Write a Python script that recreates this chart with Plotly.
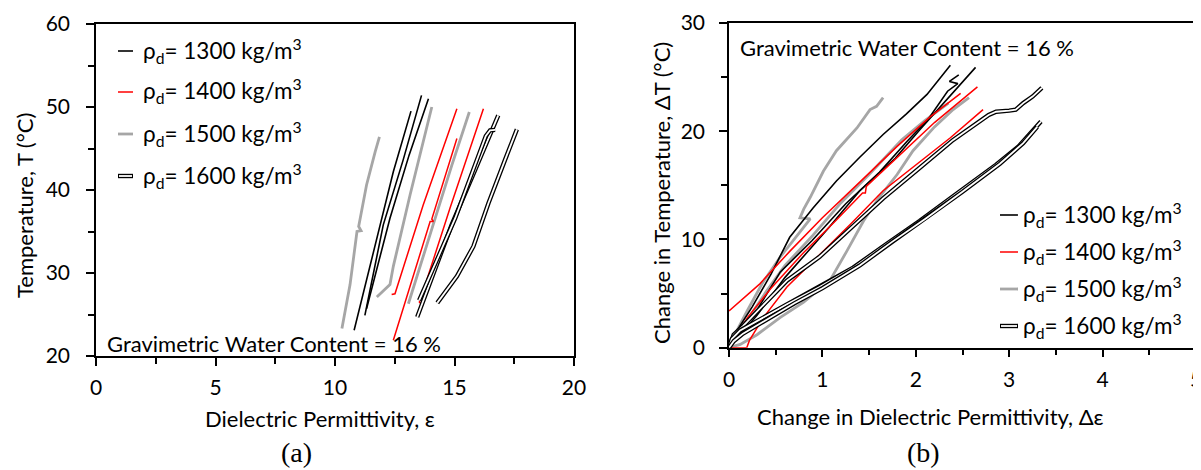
import plotly.graph_objects as go

# ---------------- Panel (a): Temperature vs dielectric permittivity ----------------
A1300_EPS = [[10.80, 11.61, 12.44, 13.18],
             [11.25, 12.02, 12.85, 13.62],
             [11.32, 12.30, 13.10, 13.91]]
A1300_T = [[23.1, 32.6, 42.2, 49.5],
           [24.9, 35.8, 43.6, 51.4],
           [25.7, 36.6, 44.2, 51.0]]

A1400_EPS = [[12.44, 13.98, 14.12, 14.05, 15.10],
             [12.37, 12.51, 13.69, 15.10],
             [13.66, 13.53, 13.61, 14.81, 16.21]]
A1400_T = [[21.9, 36.2, 36.2, 36.5, 46.2],
           [27.4, 27.5, 38.2, 49.8],
           [26.1, 26.5, 27.1, 37.8, 49.8]]

A1500_EPS = [[10.29, 10.63, 10.92, 11.09, 10.99, 11.32, 11.68, 11.86],
             [11.75, 12.30, 12.44, 13.14, 14.05],
             [13.07, 14.26, 14.89, 15.62]]
A1500_T = [[23.3, 28.6, 35.0, 35.1, 35.6, 40.6, 44.6, 46.4],
           [27.1, 28.6, 30.8, 39.4, 50.0],
           [26.3, 37.4, 43.0, 49.4]]

A1600_EPS = [[13.44, 14.88, 15.86, 16.83],
             [13.52, 15.03, 16.31, 16.49, 16.70],
             [14.28, 15.10, 15.79, 16.42, 17.11, 17.61]]
A1600_T = [[24.7, 35.8, 42.4, 49.0],
           [26.7, 36.6, 46.5, 47.2, 47.25],
           [26.4, 29.6, 33.2, 38.4, 43.6, 47.3]]

# ---------------- Panel (b): change in temperature vs change in permittivity ----------------
B1300_DEPS = [[0, 0.08, 0.25, 0.45, 0.65, 0.90, 1.15, 1.40, 1.65, 1.90, 2.12, 2.37],
              [0, 0.10, 0.30, 0.55, 0.89, 1.25, 1.61, 1.90, 2.14, 2.34, 2.45, 2.36, 2.46],
              [0, 0.10, 0.30, 0.60, 1.07, 1.40, 1.78, 2.05, 2.32, 2.64]]
B1300_DT = [[0, 1.5, 3.8, 6.8, 10.2, 12.9, 15.4, 17.6, 19.7, 21.6, 23.4, 26.1],
            [0, 1.2, 3.5, 7.0, 9.9, 13.3, 16.2, 19.0, 21.2, 23.7, 24.4, 24.6, 25.2],
            [0, 1.0, 3.0, 6.5, 11.1, 14.5, 17.5, 20.2, 22.8, 25.9]]

B1400_DEPS = [[0, 0.33, 0.65, 1.00, 1.40, 1.80, 2.15, 2.48],
              [0, 0.05, 0.20, 0.45, 0.80, 1.15, 1.43, 1.46, 1.47, 1.80, 2.20, 2.66],
              [0, 0.19, 0.22, 0.37, 0.62, 0.94, 1.30, 1.65, 2.00, 2.37, 2.72]]
B1400_DT = [[3.4, 5.9, 8.9, 12.0, 15.3, 18.6, 21.3, 23.5],
            [0, 0.8, 2.8, 5.5, 8.8, 11.8, 14.3, 14.3, 14.9, 17.6, 20.8, 24.1],
            [0, 0, 0.7, 2.8, 5.6, 8.3, 11.4, 14.5, 16.9, 19.4, 22.0]]

B1500_DEPS = [[0, 0.08, 0.20, 0.36, 0.55, 0.72, 0.87, 0.76, 0.80, 0.87, 1.01, 1.15, 1.37, 1.51, 1.58, 1.65],
              [0, 0.06, 0.20, 0.40, 0.60, 0.90, 1.20, 1.50, 1.85, 2.10, 2.35],
              [0, 0.12, 0.30, 0.55, 0.80, 1.08, 1.26, 1.44, 1.60, 1.80, 1.97, 2.20, 2.40, 2.57]]
B1500_DT = [[0, 1.5, 3.5, 6.0, 8.4, 10.3, 11.9, 12.0, 12.8, 13.9, 16.3, 18.2, 20.3, 22.0, 22.3, 23.1],
            [0, 0.8, 2.6, 5.2, 7.6, 10.4, 13.4, 16.0, 19.2, 21.0, 22.6],
            [0, 0.3, 1.2, 2.8, 4.2, 6.2, 8.9, 11.7, 13.8, 16.0, 18.2, 20.4, 22.0, 23.1]]

B1600_DEPS = [[0, 0.05, 0.15, 0.35, 0.62, 0.97, 1.30, 1.65, 2.04, 2.40, 2.78, 2.86, 3.00, 3.07, 3.15, 3.25, 3.35],
              [0, 0.03, 0.12, 0.37, 0.62, 0.97, 1.33, 1.69, 2.04, 2.40, 2.86, 3.10, 3.34],
              [0, 0.05, 0.15, 0.40, 0.70, 1.00, 1.40, 1.75, 2.10, 2.50, 2.90, 3.15, 3.30]]
B1600_DT = [[0, 1.2, 2.0, 3.8, 6.2, 8.4, 11.0, 13.8, 16.6, 19.2, 21.5, 21.8, 21.9, 22.0, 22.6, 23.2, 24.0],
            [0, 0.8, 1.6, 2.8, 4.0, 5.6, 7.4, 9.6, 11.7, 14.0, 16.9, 18.6, 20.9],
            [0, 0.6, 1.3, 2.6, 4.1, 5.5, 7.6, 9.8, 11.9, 14.4, 17.0, 18.9, 20.4]]

LEGEND_LABELS = ["ρ<sub>d</sub>= 1300 kg/m<sup>3</sup>",
                 "ρ<sub>d</sub>= 1400 kg/m<sup>3</sup>",
                 "ρ<sub>d</sub>= 1500 kg/m<sup>3</sup>",
                 "ρ<sub>d</sub>= 1600 kg/m<sup>3</sup>"]
NOTE = "Gravimetric Water Content = 16 %"

# ---------------- styles ----------------
OFF = 8                      # page body margin of the HTML page
W, H = 1201 - OFF, 470 - OFF
FONT = "Lato"
BLACK, RED, GRAY = "#000000", "#ff0000", "#a6a6a6"
STYLES = [dict(color=BLACK, width=1.6), dict(color=RED, width=1.5), dict(color=GRAY, width=2.8)]

fig = go.Figure()

def add_simple(xs_list, ys_list, style, xa, ya):
    for xs, ys in zip(xs_list, ys_list):
        fig.add_trace(go.Scatter(x=xs, y=ys, mode="lines", line=style,
                                 xaxis=xa, yaxis=ya, showlegend=False, hoverinfo="skip"))

def add_double(xs_list, ys_list, xa, ya):
    for xs, ys in zip(xs_list, ys_list):
        fig.add_trace(go.Scatter(x=xs, y=ys, mode="lines", line=dict(color=BLACK, width=4.4),
                                 xaxis=xa, yaxis=ya, showlegend=False, hoverinfo="skip"))
        fig.add_trace(go.Scatter(x=xs, y=ys, mode="lines", line=dict(color="#ffffff", width=1.8),
                                 xaxis=xa, yaxis=ya, showlegend=False, hoverinfo="skip"))

# panel (a)
add_simple(A1500_EPS, A1500_T, STYLES[2], "x", "y")
add_simple(A1300_EPS, A1300_T, STYLES[0], "x", "y")
add_simple(A1400_EPS, A1400_T, STYLES[1], "x", "y")
add_double(A1600_EPS, A1600_T, "x", "y")
# panel (b)
add_simple(B1500_DEPS, B1500_DT, STYLES[2], "x2", "y2")
add_simple(B1300_DEPS, B1300_DT, STYLES[0], "x2", "y2")
add_simple(B1400_DEPS, B1400_DT, STYLES[1], "x2", "y2")
add_double(B1600_DEPS, B1600_DT, "x2", "y2")

def px(X):
    return (X - OFF) / W

def py(Y):
    return 1 - (Y - OFF) / H

axis_common = dict(showgrid=False, zeroline=False, showline=True, mirror=True,
                   linecolor="black", linewidth=1.5, ticks="outside", ticklen=8,
                   tickwidth=1.5, tickcolor="black", automargin=False,
                   ticklabeloverflow="allow",
                   tickfont=dict(family=FONT, size=21, color="black"))
minor_common = dict(ticks="outside", ticklen=6, tickwidth=1.5, tickcolor="black")

fig.update_layout(
    width=W, height=H, margin=dict(l=0, r=0, t=0, b=0, pad=0),
    paper_bgcolor="white", plot_bgcolor="white",
    xaxis=dict(domain=[px(96), px(574)], range=[0, 20], dtick=5, anchor="y",
               minor=dict(dtick=2.5, **minor_common), ticklabelstandoff=4, **axis_common),
    yaxis=dict(domain=[py(356), py(24)], range=[20, 60], dtick=10, anchor="x",
               minor=dict(dtick=5, **minor_common), ticklabelstandoff=12, **axis_common),
    xaxis2=dict(domain=[px(729), px(1196)], range=[0, 5], dtick=1, anchor="y2",
                minor=dict(dtick=0.5, **minor_common), ticklabelstandoff=4, **axis_common),
    yaxis2=dict(domain=[py(347.7), py(23)], range=[0, 30], dtick=10, anchor="x2",
                minor=dict(dtick=5, **minor_common), ticklabelstandoff=10, **axis_common),
)

ann = []
def text(X, Y, s, size=22, family=FONT, xanchor="center", angle=0):
    ann.append(dict(x=px(X), y=py(Y), xref="paper", yref="paper", text=s, showarrow=False,
                    xanchor=xanchor, yanchor="middle", textangle=angle,
                    font=dict(family=family, size=size, color="black")))

# axis titles and panel labels
text(320, 418, "Dielectric Permittivity, ε")
text(24, 206, "Temperature, T (°C)", angle=-90)
text(930, 416, "Change in Dielectric Permittivity, Δε")
text(662, 193, "Change in Temperature, ΔT (°C)", angle=-90)
text(296, 452, "(a)", size=28, family="Liberation Serif")
text(923, 452, "(b)", size=28, family="Liberation Serif")
# notes
text(105, 343, NOTE, xanchor="left")
text(738, 48, NOTE, xanchor="left")

# manual legends
shapes = []
legend_a = dict(x0=118, x1=133, xt=141, ys=[50, 91, 133, 175])
legend_b = dict(x0=1000, x1=1018, xt=1021, ys=[214, 251, 288, 325])
for lg in (legend_a, legend_b):
    for i, (Y, lab) in enumerate(zip(lg["ys"], LEGEND_LABELS)):
        text(lg["xt"], Y, lab, xanchor="left", size=22.5)
        if i < 3:
            shapes.append(dict(type="line", xref="paper", yref="paper",
                               x0=px(lg["x0"]), x1=px(lg["x1"]), y0=py(Y + 1), y1=py(Y + 1),
                               line=STYLES[i]))
        else:
            shapes.append(dict(type="line", xref="paper", yref="paper",
                               x0=px(lg["x0"]), x1=px(lg["x1"]), y0=py(Y + 1), y1=py(Y + 1),
                               line=dict(color=BLACK, width=4.4)))
            shapes.append(dict(type="line", xref="paper", yref="paper",
                               x0=px(lg["x0"] + 1), x1=px(lg["x1"] - 1), y0=py(Y + 1), y1=py(Y + 1),
                               line=dict(color="#ffffff", width=1.8)))

fig.update_layout(annotations=ann, shapes=shapes)
fig.write_html("out.html")
